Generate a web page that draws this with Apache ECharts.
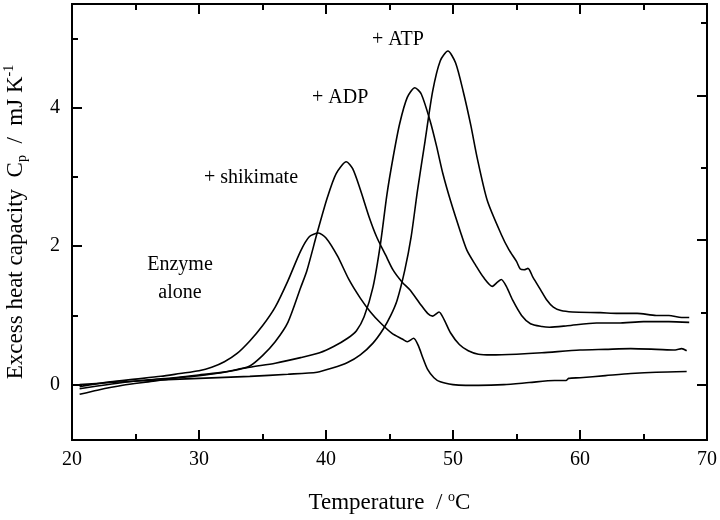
<!DOCTYPE html>
<html><head><meta charset="utf-8">
<script src="https://cdn.jsdelivr.net/npm/echarts@6/dist/echarts.min.js"></script>
<style>html,body{margin:0;padding:0;background:#fff}#c{width:720px;height:520px}</style>
</head><body><div id="c"></div>
<script>
// Temperature (°C), excess heat capacity (mJ K^-1)
const enzymeAlone = [[20.6,-0.03],[21.5,0.0],[23,0.04],[25,0.08],[27,0.12],[28.5,0.16],[30,0.2],[31,0.25],[32,0.33],[33,0.45],[34,0.63],[35,0.85],[36,1.12],[37,1.5],[38,1.93],[38.7,2.14],[39.4,2.19],[40,2.12],[40.9,1.86],[41.8,1.52],[42.7,1.25],[43.5,1.05],[44.3,0.89],[45.2,0.74],[46.0,0.66],[46.4,0.62],[46.9,0.67],[47.3,0.55],[47.6,0.4],[48.0,0.22],[48.5,0.1],[49,0.04],[50,0.0],[51,-0.01],[52,-0.01],[54,0.0],[56,0.03],[58,0.06],[58.9,0.06],[59.1,0.09],[60,0.1],[62,0.13],[64,0.16],[66,0.18],[68.4,0.19]];
const plusShikimate = [[20.6,-0.06],[22,-0.02],[24,0.03],[26,0.07],[28,0.1],[30,0.14],[31.5,0.17],[33,0.22],[34,0.27],[35,0.42],[36,0.62],[37,0.9],[38,1.4],[38.5,1.65],[39.3,2.19],[40.1,2.7],[40.8,3.05],[41.6,3.22],[42.1,3.12],[42.7,2.82],[43.4,2.42],[44,2.13],[44.7,1.87],[45.3,1.65],[46,1.48],[46.6,1.37],[47.4,1.17],[48.0,1.03],[48.4,0.99],[48.9,1.05],[49.3,0.94],[49.8,0.75],[50.5,0.58],[51.2,0.49],[52,0.44],[53,0.43],[55,0.44],[57,0.46],[60,0.5],[62,0.51],[64,0.52],[66,0.51],[67.5,0.5],[68,0.52],[68.4,0.49]];
const plusADP = [[20.6,-0.14],[22,-0.08],[24,-0.01],[26,0.04],[28,0.09],[30,0.13],[32,0.18],[34,0.25],[36,0.31],[38,0.39],[39.5,0.46],[40.6,0.55],[41.7,0.67],[42.4,0.78],[43,0.98],[43.7,1.41],[44.3,2.05],[44.8,2.75],[45.3,3.3],[45.8,3.77],[46.4,4.15],[47.0,4.29],[47.5,4.2],[48.2,3.81],[48.7,3.45],[49.2,3.05],[49.8,2.66],[50.6,2.2],[51.1,1.94],[51.8,1.72],[52.4,1.55],[53.1,1.42],[53.5,1.48],[53.8,1.52],[54.2,1.42],[54.7,1.22],[55.4,1.0],[56.1,0.88],[57,0.84],[57.6,0.83],[59,0.85],[61.3,0.89],[63,0.89],[65,0.91],[67,0.91],[68.6,0.9]];
const plusATP = [[20.6,0.0],[23,0.03],[26,0.06],[30,0.09],[34,0.12],[37,0.15],[39.3,0.18],[40.5,0.24],[41.7,0.32],[42.7,0.43],[43.7,0.6],[44.5,0.8],[45.1,1.0],[45.6,1.22],[46.2,1.65],[46.7,2.13],[47.2,2.8],[47.8,3.52],[48.4,4.24],[49.0,4.68],[49.6,4.82],[50.2,4.65],[50.8,4.24],[51.4,3.75],[51.9,3.28],[52.7,2.66],[53.8,2.17],[54.4,1.95],[55.0,1.78],[55.3,1.67],[55.6,1.66],[55.9,1.68],[56.3,1.55],[56.9,1.37],[57.4,1.22],[57.9,1.12],[58.5,1.07],[59.4,1.05],[61.6,1.04],[63,1.03],[64.5,1.03],[66,1.0],[67,1.0],[68,0.97],[68.6,0.97]];

const seriesNames = ['Enzyme alone', '+ shikimate', '+ ADP', '+ ATP'];
const xMin = 20, xMax = 70, xStep = 10;
const yMajorTicks = [0, 2, 4];
const yMinorTicks = [1, 3, 5];

const FONT = '"Liberation Serif", "Times New Roman", serif';
const BLACK = '#000';
const axisLine = {show: true, onZero: false, lineStyle: {color: BLACK, width: 2}};

function xAxisDef(pos, showLabel) {
  const a = {
    type: 'value', position: pos, min: xMin, max: xMax, interval: xStep,
    axisLine: axisLine,
    axisTick: {show: true, inside: true, length: 10, lineStyle: {color: BLACK, width: 2}},
    minorTick: {show: true, splitNumber: 2, length: 6, lineStyle: {color: BLACK, width: 2}},
    splitLine: {show: false}, minorSplitLine: {show: false},
    axisLabel: {show: showLabel, color: BLACK, fontFamily: FONT, fontSize: 20, margin: 10}
  };
  if (showLabel) {
    a.name = '{a|Temperature  / }{sup|o}{a|C}';
    a.nameLocation = 'middle';
    a.nameGap = 50;
    a.nameTextStyle = {
      rich: {
        a: {fontFamily: FONT, fontSize: 23, color: BLACK, lineHeight: 26},
        sup: {fontFamily: FONT, fontSize: 14, color: BLACK, verticalAlign: 'top', lineHeight: 26}
      }
    };
  }
  return a;
}
function yAxisDef(pos, min, max, ticks, len, showLabel) {
  const a = {
    type: 'value', position: pos, min: min, max: max, offset: 0,
    axisLine: axisLine,
    axisTick: {show: true, inside: true, length: len, customValues: ticks, lineStyle: {color: BLACK, width: 2}},
    splitLine: {show: false},
    axisLabel: {show: showLabel, customValues: ticks, color: BLACK, fontFamily: FONT, fontSize: 20, margin: 12}
  };
  if (showLabel) {
    a.name = '{a|Excess heat capacity  C}{sub|p}{a|  /  mJ K}{sup|-1}';
    a.nameLocation = 'middle';
    a.nameRotate = 90;
    a.nameGap = 43;
    a.nameTextStyle = {
      rich: {
        a: {fontFamily: FONT, fontSize: 23, color: BLACK, lineHeight: 27},
        sub: {fontFamily: FONT, fontSize: 14, color: BLACK, verticalAlign: 'bottom', lineHeight: 27},
        sup: {fontFamily: FONT, fontSize: 14, color: BLACK, verticalAlign: 'top', lineHeight: 27}
      }
    };
  }
  return a;
}

const chart = echarts.init(document.getElementById('c'), null, {renderer: 'canvas'});
const datasets = [enzymeAlone, plusShikimate, plusADP, plusATP];
chart.setOption({
  animation: false,
  backgroundColor: '#fff',
  grid: {left: 72, right: 13, top: 4, bottom: 80, containLabel: false, outerBoundsMode: 'none'},
  xAxis: [xAxisDef('bottom', true), xAxisDef('top', false)],
  yAxis: [
    yAxisDef('left', -0.8, 5.5, yMajorTicks, 10, true),
    yAxisDef('left', -0.8, 5.5, yMinorTicks, 6, false),
    yAxisDef('right', -0.76, 5.26, yMajorTicks, 10, false),
    yAxisDef('right', -0.76, 5.26, yMinorTicks, 6, false)
  ],
  series: datasets.map((d, i) => ({
    name: seriesNames[i], type: 'line', data: d, xAxisIndex: 0, yAxisIndex: 0,
    showSymbol: false, smooth: 0.25,
    lineStyle: {color: BLACK, width: 1.6}
  })),
  graphic: [
    {type: 'text', x: 372, y: 40, style: {text: '+ ATP', font: '20px ' + FONT, fill: BLACK, textVerticalAlign: 'middle'}},
    {type: 'text', x: 312, y: 98, style: {text: '+ ADP', font: '20px ' + FONT, fill: BLACK, textVerticalAlign: 'middle'}},
    {type: 'text', x: 204, y: 178, style: {text: '+ shikimate', font: '20px ' + FONT, fill: BLACK, textVerticalAlign: 'middle'}},
    {type: 'text', x: 180, y: 265, style: {text: 'Enzyme', font: '20px ' + FONT, fill: BLACK, textAlign: 'center', textVerticalAlign: 'middle'}},
    {type: 'text', x: 180, y: 293, style: {text: 'alone', font: '20px ' + FONT, fill: BLACK, textAlign: 'center', textVerticalAlign: 'middle'}}
  ]
});
</script>
</body></html>
